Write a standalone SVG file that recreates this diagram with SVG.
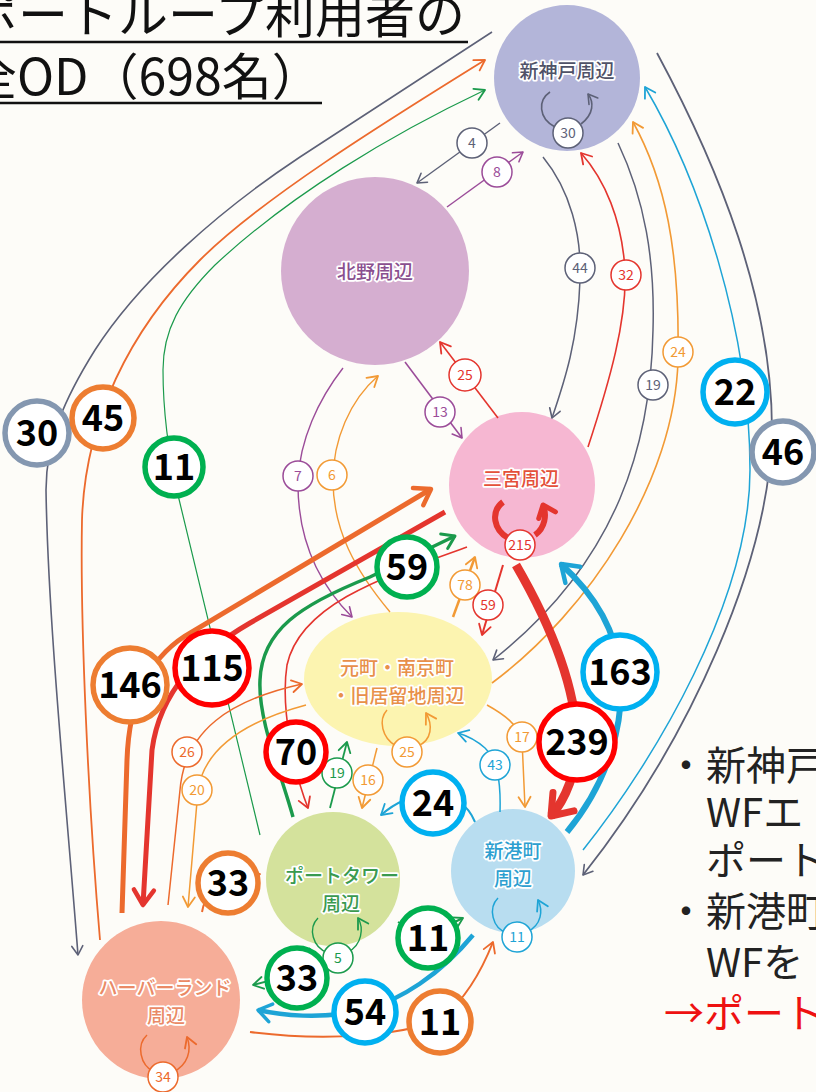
<svg xmlns="http://www.w3.org/2000/svg" width="816" height="1092" viewBox="0 0 816 1092">
<style>
text{font-family:"Noto Sans CJK JP","Noto Sans",sans-serif}
.nl{font-size:19px;font-weight:500;text-anchor:middle;stroke:#fff;stroke-width:3.5px;paint-order:stroke;stroke-linejoin:round}
.c{fill:none;stroke-linecap:butt}
.g{stroke:#5d6177}.p{stroke:#9b4c99}.r{stroke:#e4352e}.o{stroke:#ec6a2d}.l{stroke:#f29a35}.gr{stroke:#1b9a4c}.b{stroke:#1ea4d6}
.fg{fill:#5d6177}.fp{fill:#9b4c99}.fr{fill:#e4352e}.fo{fill:#ec6a2d}.fl{fill:#f29a35}.fgr{fill:#1b9a4c}.fb{fill:#1ea4d6}
.s circle{fill:#fff;stroke-width:1.5}
.s text{font-size:14px;text-anchor:middle}
.B circle{fill:#fff;stroke-width:5.5}
.B text{font-size:36px;font-weight:700;text-anchor:middle;fill:#000}
.bg{stroke:#8497b0}.bo{stroke:#ed7d31}.bgr{stroke:#00b050}.bb{stroke:#00b0f0}.br{stroke:#ff0000}
.t{font-size:50px;fill:#111}
.rt{font-size:40px;fill:#222}
.ah{fill:none;stroke-linecap:round;stroke-linejoin:round}
</style>
<defs>
<marker id="aG" viewBox="-30 -30 60 60" markerWidth="60" markerHeight="60" markerUnits="userSpaceOnUse" orient="auto"><path class="ah" d="M-9,-5.5 L0,0 L-9,5.5" stroke="#5d6177" stroke-width="1.6"/></marker>
<marker id="aP" viewBox="-30 -30 60 60" markerWidth="60" markerHeight="60" markerUnits="userSpaceOnUse" orient="auto"><path class="ah" d="M-9,-5.5 L0,0 L-9,5.5" stroke="#9b4c99" stroke-width="1.6"/></marker>
<marker id="aR" viewBox="-30 -30 60 60" markerWidth="60" markerHeight="60" markerUnits="userSpaceOnUse" orient="auto"><path class="ah" d="M-10,-6 L0,0 L-10,6" stroke="#e4352e" stroke-width="1.8"/></marker>
<marker id="aO" viewBox="-30 -30 60 60" markerWidth="60" markerHeight="60" markerUnits="userSpaceOnUse" orient="auto"><path class="ah" d="M-10,-6 L0,0 L-10,6" stroke="#ec6a2d" stroke-width="1.8"/></marker>
<marker id="aL" viewBox="-30 -30 60 60" markerWidth="60" markerHeight="60" markerUnits="userSpaceOnUse" orient="auto"><path class="ah" d="M-10,-6 L0,0 L-10,6" stroke="#f29a35" stroke-width="1.8"/></marker>
<marker id="aGr" viewBox="-30 -30 60 60" markerWidth="60" markerHeight="60" markerUnits="userSpaceOnUse" orient="auto"><path class="ah" d="M-10,-6 L0,0 L-10,6" stroke="#1b9a4c" stroke-width="1.8"/></marker>
<marker id="aB" viewBox="-30 -30 60 60" markerWidth="60" markerHeight="60" markerUnits="userSpaceOnUse" orient="auto"><path class="ah" d="M-10,-6 L0,0 L-10,6" stroke="#1ea4d6" stroke-width="1.8"/></marker>
<marker id="aR5" viewBox="-30 -30 60 60" markerWidth="60" markerHeight="60" markerUnits="userSpaceOnUse" orient="auto"><path class="ah" d="M-15,-10 L0,0 L-15,10" stroke="#e4352e" stroke-width="4.5"/></marker>
<marker id="aR9" viewBox="-30 -30 60 60" markerWidth="60" markerHeight="60" markerUnits="userSpaceOnUse" orient="auto"><path class="ah" d="M-19,-14 L0,0 L-19,14" stroke="#e4352e" stroke-width="7"/></marker>
<marker id="aRs" viewBox="-30 -30 60 60" markerWidth="60" markerHeight="60" markerUnits="userSpaceOnUse" orient="auto"><path class="ah" d="M-11,-9 L0,0 L-11,9" stroke="#e4352e" stroke-width="5"/></marker>
<marker id="aO5" viewBox="-30 -30 60 60" markerWidth="60" markerHeight="60" markerUnits="userSpaceOnUse" orient="auto"><path class="ah" d="M-15,-10 L0,0 L-15,10" stroke="#ec6a2d" stroke-width="4.5"/></marker>
<marker id="aGr3" viewBox="-30 -30 60 60" markerWidth="60" markerHeight="60" markerUnits="userSpaceOnUse" orient="auto"><path class="ah" d="M-12,-8 L0,0 L-12,8" stroke="#1b9a4c" stroke-width="3"/></marker>
<marker id="aB6" viewBox="-30 -30 60 60" markerWidth="60" markerHeight="60" markerUnits="userSpaceOnUse" orient="auto"><path class="ah" d="M-16,-11 L0,0 L-16,11" stroke="#1ea4d6" stroke-width="4.5"/></marker>
<marker id="aB4" viewBox="-30 -30 60 60" markerWidth="60" markerHeight="60" markerUnits="userSpaceOnUse" orient="auto"><path class="ah" d="M-13,-9 L0,0 L-13,9" stroke="#1ea4d6" stroke-width="3.5"/></marker>
</defs>
<rect width="816" height="1092" fill="#fdfcf8"/>

<g id="title">
<text class="t" x="-32" y="33">ポートループ利用者の</text>
<text class="t" x="-33" y="95">全OD（698名）</text>
<line x1="0" y1="42" x2="468" y2="42" stroke="#111" stroke-width="2.5"/>
<line x1="0" y1="103" x2="322" y2="103" stroke="#111" stroke-width="2.5"/>
</g>

<g id="node-shinkobe">
<circle cx="567" cy="78" r="73" fill="#b3b5d9"/>
<text class="nl" x="567" y="78" fill="#4f5268">新神戸周辺</text>
<path class="c g" stroke-width="1.6" d="M550,92 C538,100 538,118 555,127"/>
<path class="c g" stroke-width="1.6" d="M581,124 C594,114 594,102 588,94" marker-end="url(#aG)"/>
<g class="s"><circle cx="568" cy="133" r="15" class="g"/><text x="568" y="138" class="fg">30</text></g>
</g>

<g id="node-kitano">
<circle cx="375" cy="271" r="94" fill="#d5aed0"/>
<text class="nl" x="375" y="279" fill="#8a4f8f">北野周辺</text>
</g>

<g id="node-sannomiya">
<circle cx="522" cy="485" r="73" fill="#f6b7d2"/>
<text class="nl" x="521" y="486" fill="#e4503a">三宮周辺</text>
<path class="c r" stroke-width="6" d="M503,502 C490,512 494,530 508,538"/>
<path class="c r" stroke-width="6" d="M535,535 C545,528 547,515 543,505" marker-end="url(#aRs)"/>
<g class="s"><circle cx="520" cy="545" r="15" class="r"/><text x="520" y="550" class="fr">215</text></g>
</g>

<g id="node-motomachi">
<ellipse cx="398" cy="679" rx="94" ry="67" fill="#fcf4b0"/>
<text class="nl" x="397" y="675" fill="#e8904a">元町・南京町</text>
<text class="nl" x="398" y="703" fill="#e8904a">・旧居留地周辺</text>
<path class="c l" stroke-width="1.5" d="M387,710 C378,720 382,738 396,746"/>
<path class="c l" stroke-width="1.5" d="M418,746 C432,740 433,725 426,713" marker-end="url(#aL)"/>
<g class="s"><circle cx="407" cy="752" r="15" class="l"/><text x="407" y="757" class="fl">25</text></g>
</g>

<g id="node-porttower">
<circle cx="333" cy="879" r="67" fill="#d4e29c"/>
<text class="nl" x="342" y="883" fill="#3a9a4f">ポートタワー</text>
<text class="nl" x="341" y="911" fill="#3a9a4f">周辺</text>
<path class="c gr" stroke-width="1.4" d="M318,918 C308,928 312,947 328,953"/>
<path class="c gr" stroke-width="1.4" d="M348,952 C362,945 364,928 358,918" marker-end="url(#aGr)"/>
<g class="s"><circle cx="338" cy="958" r="15" class="gr"/><text x="338" y="963" class="fgr">5</text></g>
</g>

<g id="node-shinkocho">
<circle cx="513" cy="871" r="62" fill="#b8ddf0"/>
<text class="nl" x="513" y="858" fill="#2d9fd0">新港町</text>
<text class="nl" x="513" y="886" fill="#2d9fd0">周辺</text>
<path class="c b" stroke-width="1.5" d="M498,898 C488,908 492,928 507,933"/>
<path class="c b" stroke-width="1.5" d="M527,932 C542,925 543,910 538,900" marker-end="url(#aB)"/>
<g class="s"><circle cx="517" cy="937" r="15" class="b"/><text x="517" y="942" class="fb">11</text></g>
</g>

<g id="node-harborland">
<circle cx="161" cy="1000" r="79" fill="#f6ad98"/>
<text class="nl" x="165" y="995" fill="#ea8a66">ハーバーランド</text>
<text class="nl" x="166" y="1023" fill="#ea8a66">周辺</text>
<path class="c o" stroke-width="1.5" d="M147,1035 C136,1045 140,1065 154,1072"/>
<path class="c o" stroke-width="1.5" d="M173,1072 C188,1065 192,1050 187,1037" marker-end="url(#aO)"/>
<g class="s"><circle cx="163" cy="1077" r="15" class="o"/><text x="163" y="1082" class="fo">34</text></g>
</g>

<g id="connectors">
<path class="c g" stroke-width="1.6" d="M492,32 L300,157 C220,210 140,280 95,350 C65,398 46,440 46,490 C48,620 66,800 78,955" marker-end="url(#aG)"/>
<path class="c o" stroke-width="1.8" d="M100,940 C88,800 80,620 82,520 C85,420 130,330 200,260 C260,200 380,125 485,60" marker-end="url(#aO)"/>
<path class="c gr" stroke-width="1.2" d="M260,835 L178,495 C170,460 163,420 163,370 C163,330 180,300 215,265 C290,195 390,135 485,90" marker-end="url(#aGr)"/>
<path class="c g" stroke-width="1.8" d="M657,53 C720,170 772,300 772,430 C770,560 690,740 583,875" marker-end="url(#aG)"/>
<path class="c b" stroke-width="1.5" d="M583,850 C655,760 750,600 750,470 C750,330 700,180 645,87" marker-end="url(#aB)"/>
<path class="c g" stroke-width="1.5" d="M543,157 C570,190 582,235 580,280 C578,340 565,380 552,418" marker-end="url(#aG)"/>
<path class="c r" stroke-width="1.6" d="M588,447 C610,380 627,320 625,270 C622,220 605,180 581,153" marker-end="url(#aR)"/>
<path class="c g" stroke-width="1.5" d="M618,143 C645,200 655,260 653,330 C651,440 620,560 493,660" marker-end="url(#aG)"/>
<path class="c l" stroke-width="1.6" d="M492,683 C590,610 675,480 678,360 C680,250 665,180 633,122" marker-end="url(#aL)"/>
<path class="c g" stroke-width="1.4" d="M500,123 L417,183" marker-end="url(#aG)"/>
<path class="c p" stroke-width="1.4" d="M447,207 L523,152" marker-end="url(#aP)"/>
<path class="c r" stroke-width="1.6" d="M498,418 L440,342" marker-end="url(#aR)"/>
<path class="c p" stroke-width="1.6" d="M405,362 L462,438" marker-end="url(#aP)"/>
<path class="c p" stroke-width="1.4" d="M343,368 C318,400 300,440 298,480 C297,540 320,585 352,617" marker-end="url(#aP)"/>
<path class="c l" stroke-width="1.4" d="M390,612 C355,570 333,530 333,480 C333,440 350,400 378,376" marker-end="url(#aL)"/>
<path class="c l" stroke-width="2.5" d="M453,617 L475,557" marker-end="url(#aL)"/>
<path class="c r" stroke-width="2" d="M503,565 L482,635" marker-end="url(#aR)"/>
<path class="c r" stroke-width="9" d="M516,565 C545,615 575,680 577,740 C578,770 565,800 551,816" marker-end="url(#aR9)"/>
<path class="c b" stroke-width="6" d="M567,832 C610,780 625,720 620,672 C616,630 595,595 561,564" marker-end="url(#aB6)"/>
<path class="c l" stroke-width="1.5" d="M487,705 C505,715 518,725 522,740 L525,807" marker-end="url(#aL)"/>
<path class="c b" stroke-width="1.5" d="M500,812 C501,780 497,760 485,748 C476,740 468,736 458,733" marker-end="url(#aB)"/>
<path class="c l" stroke-width="1.5" d="M377,748 L362,808" marker-end="url(#aL)"/>
<path class="c gr" stroke-width="1.8" d="M330,808 L347,742" marker-end="url(#aGr)"/>
<path class="c b" stroke-width="2" d="M475,822 C468,805 455,795 433,795 C410,795 395,803 381,815" marker-end="url(#aB)"/>
<path class="c r" stroke-width="1.6" d="M467,547 C380,578 300,605 287,665 C280,710 295,775 308,808" marker-end="url(#aR)"/>
<path class="c gr" stroke-width="3.5" d="M293,817 C280,770 258,720 260,680 C262,630 300,605 370,577 L455,536" marker-end="url(#aGr3)"/>
<path class="c r" stroke-width="5" d="M445,512 L250,623 C200,652 160,690 152,750 L143,905" marker-end="url(#aR5)"/>
<path class="c o" stroke-width="5" d="M122,913 L127,760 C129,700 148,660 185,636 L431,489" marker-end="url(#aO5)"/>
<path class="c l" stroke-width="1.5" d="M306,705 C250,720 205,745 198,790 L188,907" marker-end="url(#aL)"/>
<path class="c o" stroke-width="1.5" d="M168,905 L180,790 C185,730 230,700 302,684" marker-end="url(#aO)"/>
<path class="c o" stroke-width="2" d="M202,912 C205,895 215,885 230,880 L260,874" marker-end="url(#aO)"/>
<path class="c gr" stroke-width="2" d="M310,948 C300,965 285,978 253,985" marker-end="url(#aGr)"/>
<path class="c gr" stroke-width="2" d="M398,922 C420,935 440,930 463,918" marker-end="url(#aGr)"/>
<path class="c b" stroke-width="4.5" d="M473,935 C440,975 400,1000 365,1010 C320,1020 280,1015 258,1010" marker-end="url(#aB4)"/>
<path class="c o" stroke-width="2" d="M250,1032 C330,1042 400,1035 440,1020 C465,1000 482,970 493,942" marker-end="url(#aO)"/>

<g class="s">
<circle cx="472" cy="143" r="15" class="g"/><text x="472" y="148" class="fg">4</text>
<circle cx="497" cy="172" r="15" class="p"/><text x="497" y="177" class="fp">8</text>
<circle cx="580" cy="268" r="15" class="g"/><text x="580" y="273" class="fg">44</text>
<circle cx="626" cy="275" r="15" class="r"/><text x="626" y="280" class="fr">32</text>
<circle cx="653" cy="385" r="15" class="g"/><text x="653" y="390" class="fg">19</text>
<circle cx="678" cy="352" r="15" class="l"/><text x="678" y="357" class="fl">24</text>
<circle cx="465" cy="375" r="16" class="r"/><text x="465" y="380" class="fr">25</text>
<circle cx="440" cy="412" r="15" class="p"/><text x="440" y="417" class="fp">13</text>
<circle cx="298" cy="476" r="15" class="p"/><text x="298" y="481" class="fp">7</text>
<circle cx="332" cy="475" r="15" class="l"/><text x="332" y="480" class="fl">6</text>
<circle cx="465" cy="585" r="15" class="l"/><text x="465" y="590" class="fl">78</text>
<circle cx="488" cy="605" r="15" class="r"/><text x="488" y="610" class="fr">59</text>
<circle cx="522" cy="737" r="15" class="l"/><text x="522" y="742" class="fl">17</text>
<circle cx="495" cy="765" r="15" class="b"/><text x="495" y="770" class="fb">43</text>
<circle cx="368" cy="780" r="15" class="l"/><text x="368" y="785" class="fl">16</text>
<circle cx="337" cy="773" r="15" class="gr"/><text x="337" y="778" class="fgr">19</text>
<circle cx="187" cy="752" r="15" class="o"/><text x="187" y="757" class="fo">26</text>
<circle cx="197" cy="790" r="15" class="l"/><text x="197" y="795" class="fl">20</text>
</g>

<g class="B">
<circle cx="37" cy="433" r="32" class="bg"/><text x="37" y="446">30</text>
<circle cx="103" cy="418" r="31" class="bo"/><text x="103" y="431">45</text>
<circle cx="174" cy="467" r="29" class="bgr"/><text x="174" y="480">11</text>
<circle cx="735" cy="392" r="32" class="bb"/><text x="735" y="405">22</text>
<circle cx="783" cy="452" r="31" class="bg"/><text x="783" y="465">46</text>
<circle cx="407" cy="567" r="30" class="bgr"/><text x="407" y="580">59</text>
<circle cx="130" cy="685" r="37" class="bo"/><text x="130" y="698">146</text>
<circle cx="212" cy="668" r="37" class="br"/><text x="212" y="681">115</text>
<circle cx="620" cy="672" r="37" class="bb"/><text x="620" y="685">163</text>
<circle cx="577" cy="742" r="38" class="br"/><text x="577" y="755">239</text>
<circle cx="296" cy="752" r="30" class="br"/><text x="296" y="765">70</text>
<circle cx="433" cy="803" r="31" class="bb"/><text x="433" y="816">24</text>
<circle cx="228" cy="883" r="30" class="bo"/><text x="228" y="896">33</text>
<circle cx="428" cy="938" r="30" class="bgr"/><text x="428" y="951">11</text>
<circle cx="297" cy="978" r="30" class="bgr"/><text x="297" y="991">33</text>
<circle cx="365" cy="1012" r="31" class="bb"/><text x="365" y="1025">54</text>
<circle cx="440" cy="1022" r="31" class="bo"/><text x="440" y="1035">11</text>
</g>
</g>

<g id="notes">
<text class="rt" x="666" y="780">・新神戸</text>
<text class="rt" x="706" y="827">WFエ</text>
<text class="rt" x="706" y="875">ポート</text>
<text class="rt" x="666" y="926">・新港町</text>
<text class="rt" x="706" y="977">WFを</text>
<text class="rt" x="664" y="1028" style="fill:#ee1111">→ポート</text>
</g>
</svg>
